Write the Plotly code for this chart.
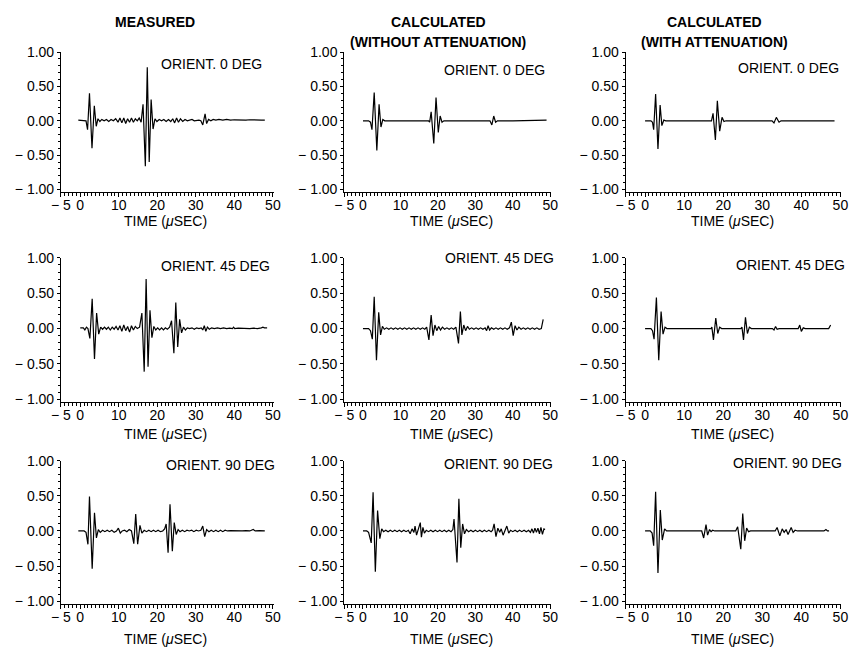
import plotly.graph_objects as go

W, H = 857, 654

# ---------------- data (time in microseconds, normalized amplitude) ----------------
meas_0 = [(-0.5,0.01),(1.0,0.01),(1.5,0.0),(1.9,-0.13),(2.4,0.40),(3.05,-0.40),(3.65,0.22),(4.15,-0.08),
          (4.6,0.03),(5.1,-0.01),(5.6,0.02),(6.2,0.0),(6.8,0.02),(7.4,-0.01),(8.0,0.02),(8.6,0.0),(9.2,0.03),
          (9.8,-0.02),(10.3,0.04),(10.8,-0.03),(11.3,0.04),(11.8,-0.04),(12.3,0.03),(12.8,-0.02),(13.3,0.04),
          (13.8,-0.02),(14.3,0.03),(14.8,0.0),(15.3,0.04),(15.8,-0.02),(16.3,0.24),(16.9,-0.66),(17.4,0.78),
          (17.9,-0.60),(18.4,0.31),(18.9,-0.12),(19.4,0.03),(19.9,-0.01),(20.5,0.02),(21.1,0.0),(21.7,0.02),
          (22.3,-0.01),(22.9,0.02),(23.5,-0.01),(24.0,0.03),(24.5,-0.03),(25.0,0.04),(25.5,-0.02),(26.0,0.03),
          (26.6,-0.01),(27.2,0.02),(27.8,0.0),(28.4,0.01),(29.0,0.02),(29.6,0.0),(30.2,0.01),(30.8,0.01),
          (31.3,0.0),(31.8,-0.06),(32.4,0.10),(32.8,-0.04),(33.3,0.02),(33.9,0.0),(34.5,0.02),(35.2,0.01),
          (36.0,0.02),(37.0,0.01),(38.0,0.02),(39.0,0.01),(40.0,0.015),(41.0,0.01),(42.0,0.015),(43.0,0.01),
          (44.0,0.015),(45.0,0.01),(46.0,0.015),(47.0,0.01),(47.9,0.01)]

noatt_0 = [(0,0),(1.5,0),(2.0,-0.02),(2.4,-0.13),(3.0,0.41),(3.7,-0.43),(4.3,0.24),(4.8,-0.09),(5.3,0.02),
           (5.8,0.0),(8,0),(12,0),(16,0),(17.5,0.0),(17.8,-0.02),(18.2,0.13),(18.9,-0.33),(19.5,0.34),
           (20.1,-0.17),(20.6,0.07),(21.1,-0.02),(21.6,0.0),(25,0),(30,0),(33.9,0.0),(34.4,-0.06),(34.9,0.07),
           (35.4,-0.02),(35.9,0.0),(40,0),(45,0),(49.0,0.01)]

att_0 = [(0,0),(1.5,0),(1.9,-0.02),(2.2,-0.13),(2.7,0.39),(3.3,-0.41),(3.85,0.23),(4.3,-0.07),(4.8,0.01),
         (5.3,0),(10,0),(17.0,0),(17.4,0.11),(18.0,-0.28),(18.5,0.29),(19.1,-0.15),(19.7,0.05),(20.2,-0.01),
         (20.7,0),(25,0),(32.5,0),(33.0,-0.03),(33.6,0.05),(34.3,-0.02),(34.8,0.0),(40,0),(48.5,0.0)]

meas_45 = [(0,0.01),(0.8,0.01),(1.2,-0.02),(1.6,0.02),(2.0,0.0),(2.5,-0.14),(3.1,0.42),(3.7,-0.43),(4.25,0.22),
           (4.8,-0.08),(5.3,0.02),(5.8,-0.01),(6.3,0.02),(6.8,-0.01),(7.3,0.02),(7.8,-0.02),(8.3,0.02),(8.8,-0.01),
           (9.3,0.03),(9.8,-0.02),(10.3,0.04),(10.8,-0.04),(11.3,0.05),(11.8,-0.03),(12.3,0.03),(12.8,-0.05),
           (13.3,0.04),(13.8,-0.02),(14.3,0.03),(14.8,0.0),(15.4,0.02),(16.0,0.22),(16.6,-0.61),(17.1,0.70),
           (17.6,-0.54),(18.1,0.26),(18.6,-0.13),(19.1,0.03),(19.6,-0.02),(20.1,0.01),(20.6,-0.02),(21.1,0.01),
           (21.6,-0.02),(22.1,0.01),(22.6,-0.01),(23.2,0.02),(23.7,0.11),(24.3,-0.35),(24.8,0.37),(25.3,-0.26),
           (25.8,0.13),(26.3,-0.06),(26.8,0.02),(27.3,-0.02),(27.8,0.01),(28.4,0.0),(29.0,0.01),(29.6,-0.01),
           (30.2,0.01),(30.8,0.0),(31.4,0.01),(31.8,-0.02),(32.2,0.04),(32.6,-0.04),(33.0,0.02),(33.5,-0.01),
           (34.1,0.01),(34.8,0.0),(35.6,0.01),(36.4,0.0),(37.2,0.01),(38.0,0.0),(38.8,0.005),(39.5,0.0),
           (39.8,0.02),(40.1,0.0),(41.0,0.005),(42.0,0.0),(43.0,0.005),(44.0,0.0),(45.0,0.005),(46.0,0.0),
           (47.0,0.01),(47.4,0.02),(47.8,0.01),(48.5,0.01)]

noatt_45 = [(0,0),(1.5,0),(2.0,-0.03),(2.5,-0.15),(3.0,0.45),(3.6,-0.45),(4.2,0.23),(4.7,-0.09),(5.2,0.03),
            (5.7,-0.01),(6.3,0.01),(6.9,-0.01),(7.5,0.01),(8.1,-0.01),(8.7,0.01),(9.3,-0.01),(9.9,0.01),
            (10.5,-0.01),(11.1,0.01),(11.7,-0.01),(12.3,0.01),(12.9,-0.01),(13.5,0.01),(14.1,-0.01),(14.7,0.01),
            (15.3,-0.01),(15.9,0.01),(16.5,-0.01),(17.0,0.02),(17.6,-0.16),(18.2,0.19),(18.7,-0.10),(19.2,0.05),
            (19.7,-0.03),(20.2,0.03),(20.7,-0.02),(21.2,0.02),(21.8,-0.01),(22.4,0.01),(23.0,-0.01),(23.6,0.01),
            (24.2,-0.01),(24.8,0.02),(25.5,-0.21),(26.0,0.24),(26.4,-0.09),(26.9,0.05),(27.4,-0.03),(27.9,0.03),
            (28.4,-0.01),(29.0,0.01),(29.6,-0.01),(30.2,0.01),(30.8,-0.01),(31.4,0.01),(32.0,-0.01),(32.6,0.01),
            (33.0,-0.03),(33.4,0.04),(33.8,-0.02),(34.3,0.01),(34.9,-0.01),(35.5,0.01),(36.1,-0.01),(36.7,0.01),
            (37.3,-0.01),(37.9,0.01),(38.5,-0.01),(39.1,0.01),(39.6,0.09),(40.1,-0.10),(40.6,0.04),(41.1,-0.02),
            (41.6,0.02),(42.2,-0.01),(42.8,0.01),(43.4,-0.01),(44.0,0.01),(44.6,-0.01),(45.2,0.01),(45.8,-0.01),
            (46.4,0.01),(47.0,-0.01),(47.6,0.0),(48.1,0.13)]

att_45 = [(0,0),(1.5,0),(1.9,-0.03),(2.3,-0.15),(2.9,0.44),(3.5,-0.45),(4.1,0.24),(4.6,-0.08),(5.1,0.02),
          (5.6,0),(10,0),(16.9,0),(17.1,0.02),(17.5,-0.16),(18.1,0.15),(18.6,-0.07),(19.1,0.02),(19.6,0.0),
          (24.5,0),(24.8,0.02),(25.2,-0.16),(25.7,0.16),(26.2,-0.07),(26.7,0.02),(27.2,0.0),(32.6,0.0),
          (33.0,-0.02),(33.4,0.03),(33.8,-0.01),(34.3,0.0),(39.2,0.0),(39.6,0.05),(40.0,-0.04),(40.5,0.01),
          (41.0,0.0),(47.0,0.0),(47.5,0.05)]

meas_90 = [(-0.5,0.0),(1.0,0.0),(1.5,-0.02),(2.0,-0.19),(2.4,0.49),(3.1,-0.54),(3.7,0.26),(4.2,-0.10),(4.7,0.02),
           (5.2,-0.02),(5.8,0.01),(6.4,-0.01),(7.0,0.01),(7.6,-0.01),(8.2,0.01),(8.8,-0.02),(9.4,0.0),(9.9,0.04),
           (10.4,-0.03),(10.9,0.0),(11.5,0.01),(12.1,-0.01),(12.7,0.02),(13.3,0.0),(13.9,-0.18),(14.4,0.24),
           (14.9,-0.19),(15.5,0.08),(16.0,-0.03),(16.6,0.01),(17.2,-0.01),(17.8,0.01),(18.4,-0.01),(19.0,0.01),
           (19.6,-0.01),(20.2,0.01),(20.8,-0.01),(21.4,0.0),(21.9,0.03),(22.3,0.10),(22.8,-0.31),(23.3,0.38),
           (23.9,-0.29),(24.4,0.12),(24.9,-0.05),(25.4,0.02),(25.9,-0.01),(26.5,0.01),(27.1,-0.01),(27.7,0.01),
           (28.3,0.0),(28.9,0.01),(29.5,-0.01),(30.1,0.01),(30.7,0.0),(31.3,0.01),(31.8,0.07),(32.3,-0.08),
           (32.8,0.02),(33.4,-0.01),(34.0,0.01),(34.6,-0.01),(35.2,0.01),(35.8,-0.01),(36.4,0.01),(37.0,-0.01),
           (37.6,0.01),(38.2,0.0),(39.0,0.005),(40.0,0.0),(41.0,0.005),(42.0,0.0),(43.0,0.005),(44.0,0.0),
           (44.9,0.02),(45.4,0.0),(46.5,0.005),(47.9,0.0)]

noatt_90 = [(0,0),(1.0,0.0),(1.5,-0.02),(2.2,-0.17),(2.7,0.55),(3.3,-0.58),(3.9,0.29),(4.5,-0.11),(5.0,0.03),
            (5.5,-0.01),(6.1,0.01),(6.7,-0.01),(7.3,0.01),(7.9,-0.01),(8.5,0.01),(9.1,-0.01),(9.7,0.01),
            (10.3,-0.01),(10.9,0.01),(11.5,-0.01),(12.1,0.01),(12.6,-0.04),(13.1,0.03),(13.6,-0.02),(13.9,0.07),
            (14.3,-0.06),(14.8,0.03),(15.3,0.12),(15.6,-0.09),(16.0,0.05),(16.4,-0.03),(16.9,0.01),(17.5,-0.01),
            (18.1,0.01),(18.7,-0.01),(19.3,0.01),(19.9,-0.01),(20.5,0.01),(21.1,-0.01),(21.7,0.01),(22.3,-0.01),
            (22.9,0.01),(23.5,-0.01),(24.0,0.02),(24.3,0.17),(25.1,-0.45),(25.6,0.46),(26.1,-0.24),(26.6,0.10),
            (27.1,-0.04),(27.6,0.02),(28.2,-0.01),(28.8,0.01),(29.4,-0.01),(30.0,0.01),(30.6,-0.01),(31.2,0.01),
            (31.8,-0.01),(32.4,0.01),(33.0,-0.01),(33.6,0.01),(34.2,-0.01),(34.6,0.01),(35.0,0.10),(35.5,-0.08),
            (36.0,0.04),(36.5,-0.02),(36.9,0.03),(37.4,-0.06),(37.9,0.02),(38.4,0.07),(38.9,-0.03),(39.4,0.01),
            (40.0,-0.01),(40.6,0.01),(41.2,-0.01),(41.8,0.01),(42.4,-0.01),(43.0,0.01),(43.6,-0.01),(44.2,0.01),
            (44.7,-0.02),(45.1,0.03),(45.5,-0.03),(45.9,0.04),(46.3,-0.02),(46.7,0.04),(47.1,-0.04),(47.5,0.05),
            (47.9,-0.05),(48.3,0.03),(48.6,0.02)]

att_90 = [(0,0),(1.3,0.0),(1.8,-0.03),(2.2,-0.21),(2.7,0.56),(3.3,-0.60),(3.9,0.30),(4.4,-0.13),(5.0,0.03),
          (5.5,0.0),(10,0),(14.5,0.0),(15.0,-0.10),(15.6,0.09),(16.0,-0.06),(16.5,0.02),(16.9,-0.01),(17.3,0.01),
          (17.8,0.0),(23.2,0.0),(23.7,0.06),(24.5,-0.26),(25.0,0.25),(25.5,-0.14),(26.0,0.04),(26.5,-0.01),
          (27.0,0.0),(33.3,0.0),(33.8,0.05),(34.5,-0.07),(35.1,0.03),(35.6,-0.02),(36.1,0.02),(36.6,-0.05),
          (37.4,0.05),(37.9,-0.02),(38.4,0.01),(39.0,0.0),(45.8,0.0),(46.3,0.02),(46.7,0.0),(47.1,0.0)]

grid_data = [[meas_0, noatt_0, att_0],
             [meas_45, noatt_45, att_45],
             [meas_90, noatt_90, att_90]]

orient_labels = ["ORIENT. 0 DEG", "ORIENT. 45 DEG", "ORIENT. 90 DEG"]
col_title_1 = ["MEASURED", "CALCULATED", "CALCULATED"]
col_title_2 = ["", "(WITHOUT ATTENUATION)", "(WITH ATTENUATION)"]
x_tickvals = [-5, 0, 10, 20, 30, 40, 50]
x_ticktext = ["\u2212 5", "0", "10", "20", "30", "40", "50"]
y_tickvals = [1.0, 0.5, 0.0, -0.5, -1.0]
y_ticktext = ["1.00", "0.50", "0.00", "\u2212 0.50", "\u2212 1.00"]
x_title = "TIME (<i>\u03bc</i>SEC)"

# ---------------- layout geometry (pixels) ----------------
col_px = [(52, 269), (341, 552), (628, 848)]
row_px = [(45, 188), (255, 402), (462, 608)]
orient_pos = [[(259, 57), (548, 63), (848, 61)],
              [(267, 263), (557, 255), (854, 262)],
              [(272, 466), (556, 465), (851, 464)]]
xtitle_py = [217, 435, 644]
xtitle_px = [159, 450, 737]
title_pos = [(148, 14, 36), (437, 14, 35), (719, 14, 35)]

FONT = "Liberation Sans, Arial, Helvetica, sans-serif"


def fx(p):
    return p / W


def fy(p):
    return 1 - p / H


fig = go.Figure()
layout = dict(width=W, height=H, margin=dict(l=0, r=0, t=0, b=0),
              paper_bgcolor="white", plot_bgcolor="white", showlegend=False,
              font=dict(family=FONT, size=14, color="black"))
annotations = []

for r in range(3):
    for c in range(3):
        n = r * 3 + c + 1
        sfx = "" if n == 1 else str(n)
        data = grid_data[r][c]
        fig.add_trace(go.Scatter(x=[p[0] for p in data], y=[p[1] for p in data], mode="lines",
                                 line=dict(color="black", width=1.2),
                                 xaxis="x" + sfx, yaxis="y" + sfx, hoverinfo="skip"))
        layout["xaxis" + sfx] = dict(
            domain=[fx(col_px[c][0]), fx(col_px[c][1])], anchor="y" + sfx,
            range=[-5, 50.2], showgrid=False, zeroline=False, showline=True,
            linecolor="black", linewidth=1, ticks="outside", ticklen=4, tickwidth=1,
            tickcolor="black", tickmode="array", tickvals=x_tickvals, ticktext=x_ticktext,
            ticklabelstandoff=-4,
            tickfont=dict(size=14, family=FONT, color="black"),
            minor=dict(tickmode="linear", tick0=0, dtick=1, ticks="outside", ticklen=3,
                       tickwidth=1, tickcolor="black", showgrid=False))
        layout["yaxis" + sfx] = dict(
            domain=[fy(row_px[r][1]), fy(row_px[r][0])], anchor="x" + sfx,
            range=[-1.04, 1.0], showgrid=False, zeroline=False, showline=True,
            linecolor="black", linewidth=1, ticks="outside", ticklen=3, tickwidth=1,
            tickcolor="black", tickmode="array", tickvals=y_tickvals, ticktext=y_ticktext,
            tickfont=dict(size=14, family=FONT, color="black"),
            minor=dict(tickmode="linear", tick0=0, dtick=0.1, ticks="outside", ticklen=2,
                       tickwidth=1, tickcolor="black", showgrid=False))
        ox, oy = orient_pos[r][c]
        annotations.append(dict(text=orient_labels[r], x=fx(ox), y=fy(oy), xref="paper", yref="paper",
                                xanchor="right", yanchor="middle", showarrow=False,
                                font=dict(size=14, family=FONT, color="black")))
        annotations.append(dict(text=x_title, x=fx(xtitle_px[c]), y=fy(xtitle_py[r]), xref="paper",
                                yref="paper", xanchor="center", yanchor="middle", showarrow=False,
                                font=dict(size=14, family=FONT, color="black")))

for c in range(3):
    tx, ty1, ty2 = title_pos[c]
    annotations.append(dict(text="<b>" + col_title_1[c] + "</b>", x=fx(tx), y=fy(ty1), xref="paper",
                            yref="paper", xanchor="center", yanchor="middle", showarrow=False,
                            font=dict(size=14, family=FONT, color="black")))
    if col_title_2[c]:
        annotations.append(dict(text="<b>" + col_title_2[c] + "</b>", x=fx(tx), y=fy(ty2), xref="paper",
                                yref="paper", xanchor="center", yanchor="middle", showarrow=False,
                                font=dict(size=14, family=FONT, color="black")))

layout["annotations"] = annotations
fig.update_layout(**layout)
fig.write_html("out.html")
